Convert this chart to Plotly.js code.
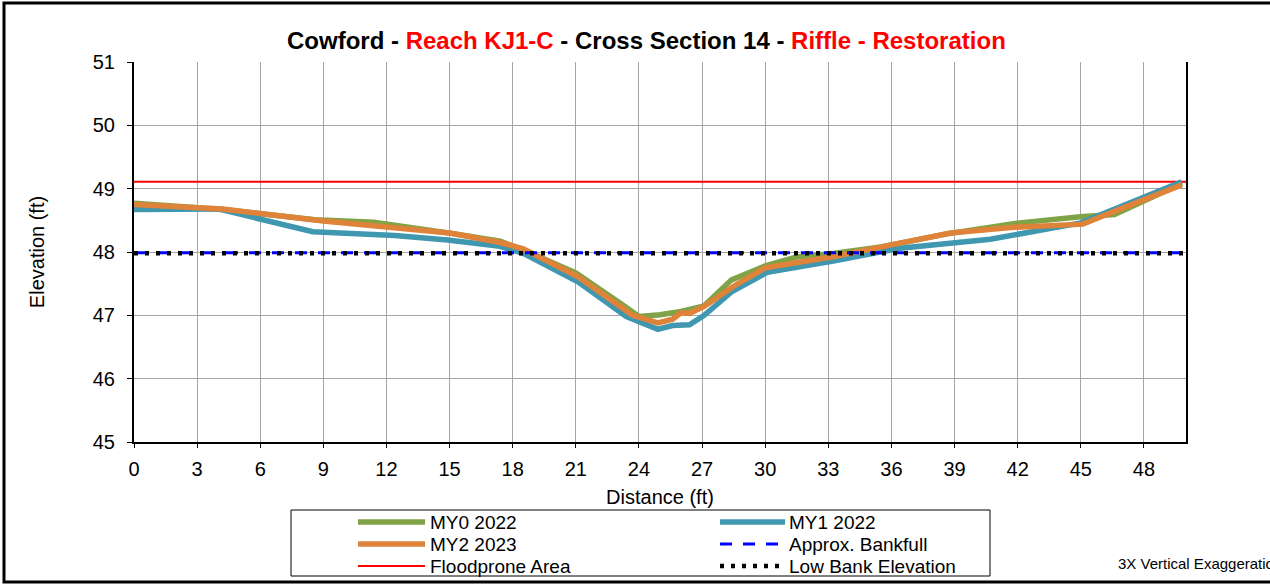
<!DOCTYPE html>
<html>
<head>
<meta charset="utf-8">
<script src="https://cdn.plot.ly/plotly-3.0.1.min.js"></script>
<style>html,body{margin:0;padding:0;background:#fff;}#chart{width:1270px;height:587px;}</style>
</head>
<body>
<div id="chart"></div>
<script>
// ---- Data ----
const my0_x = [0, 4.2, 8.6, 11.4, 15.2, 17.4, 18.6, 21.0, 23.2, 24.0, 25.0, 26.0, 27.1, 28.4, 30.0, 31.5, 33.3, 35.5, 38.7, 42.1, 45.1, 46.6, 49.8];
const my0_y = [48.77, 48.67, 48.51, 48.47, 48.29, 48.17, 48.02, 47.67, 47.17, 46.98, 47.01, 47.06, 47.15, 47.56, 47.78, 47.92, 47.98, 48.08, 48.29, 48.46, 48.56, 48.59, 49.08];

const my1_x = [0, 4.0, 8.5, 12.4, 14.9, 17.4, 18.5, 21.1, 23.4, 24.5, 24.9, 25.6, 26.4, 27.1, 28.4, 30.1, 33.3, 36.4, 40.7, 45.0, 49.8];
const my1_y = [48.67, 48.68, 48.32, 48.26, 48.19, 48.09, 47.98, 47.53, 46.98, 46.82, 46.78, 46.84, 46.85, 47.0, 47.37, 47.68, 47.86, 48.06, 48.2, 48.46, 49.11];

const my2_x = [0, 4.2, 9.0, 12.0, 15.0, 17.4, 18.5, 21.1, 23.0, 23.7, 24.9, 25.6, 26.0, 26.4, 27.1, 28.5, 30.0, 33.3, 36.4, 38.8, 41.8, 45.1, 46.5, 49.8];
const my2_y = [48.75, 48.68, 48.49, 48.39, 48.3, 48.15, 48.05, 47.61, 47.15, 47.0, 46.88, 46.94, 47.04, 47.03, 47.14, 47.46, 47.75, 47.93, 48.14, 48.30, 48.39, 48.44, 48.63, 49.06];

const ref_x = [0, 50];
const floodprone_y = [49.11, 49.11];
const bankfull_y = [47.99, 47.99];
const lowbank_y = [47.98, 47.98];

const x_ticks = [0, 3, 6, 9, 12, 15, 18, 21, 24, 27, 30, 33, 36, 39, 42, 45, 48];
const y_ticks = [45, 46, 47, 48, 49, 50, 51];

const FONT = 'Liberation Sans, Arial, sans-serif';

const traces = [
  {x: ref_x, y: floodprone_y, name: 'Floodprone Area', mode: 'lines', line: {color: '#ff0000', width: 2}},
  {x: my0_x, y: my0_y, name: 'MY0 2022', mode: 'lines', line: {color: '#7fa346', width: 5.5}},
  {x: my1_x, y: my1_y, name: 'MY1 2022', mode: 'lines', line: {color: '#3f97b0', width: 5.5}},
  {x: my2_x, y: my2_y, name: 'MY2 2023', mode: 'lines', line: {color: '#e0833a', width: 5.5}},
  {x: ref_x, y: bankfull_y, name: 'Approx. Bankfull', mode: 'lines', line: {color: '#0000ff', width: 3, dash: '12px,11px'}},
  {x: ref_x, y: lowbank_y, name: 'Low Bank Elevation', mode: 'lines', line: {color: '#000000', width: 4.5, dash: '4px,7px'}}
];

// ---- Layout geometry helpers (pixel -> paper) ----
const W = 1270, H = 587, ML = 134, MR = 84, MT = 62, MB = 145;
const PW = W - ML - MR, PH = H - MT - MB;
const px = v => (v - ML) / PW;
const py = v => (H - MB - v) / PH;

// Legend drawn as a boxed two-column key (order as in the reference)
const legendOrder = ['MY0 2022', 'MY1 2022', 'MY2 2023', 'Approx. Bankfull', 'Floodprone Area', 'Low Bank Elevation'];
const legCols = [{s0: 358, s1: 425, t: 428}, {s0: 720, s1: 785, t: 787}];
const legRows = [522, 544, 566];

const shapes = [
  {type: 'rect', xref: 'paper', yref: 'paper', x0: px(4), x1: px(1300), y0: py(582), y1: py(3),
   line: {color: '#000', width: 3}, fillcolor: 'rgba(0,0,0,0)', layer: 'below'},
  {type: 'rect', xref: 'paper', yref: 'paper', x0: px(291), x1: px(990), y0: py(576), y1: py(510),
   line: {color: '#000', width: 1}, fillcolor: '#fff'}
];
const annotations = [
  {xref: 'paper', yref: 'paper', x: px(646), y: py(40), xanchor: 'center', yanchor: 'middle', showarrow: false,
   text: "<b>Cowford - <span style='color:#ff0000'>Reach KJ1-C</span> - Cross Section 14 - <span style='color:#ff0000'>Riffle - Restoration</span></b>",
   font: {size: 24, family: FONT, color: '#000'}},
  {xref: 'paper', yref: 'paper', x: px(1116), y: py(563), xanchor: 'left', yanchor: 'middle', showarrow: false,
   text: '3X Vertical Exaggeration', font: {size: 15, family: FONT, color: '#000'}}
];
legendOrder.forEach((name, i) => {
  const tr = traces.find(t => t.name === name);
  const c = legCols[i % 2], r = legRows[Math.floor(i / 2)];
  const ln = {color: tr.line.color, width: tr.line.width};
  if (tr.line.dash) ln.dash = tr.line.dash;
  shapes.push({type: 'line', xref: 'paper', yref: 'paper', x0: px(c.s0), x1: px(c.s1), y0: py(r), y1: py(r), line: ln});
  annotations.push({xref: 'paper', yref: 'paper', x: px(c.t), y: py(r), xanchor: 'left', yanchor: 'middle', showarrow: false,
    text: name, font: {size: 19, family: FONT, color: '#000'}});
});

const layout = {
  width: W, height: H,
  margin: {l: ML, r: MR, t: MT, b: MB, autoexpand: false},
  paper_bgcolor: '#ffffff', plot_bgcolor: '#ffffff',
  font: {family: FONT, color: '#000', size: 17},
  showlegend: false,
  hovermode: false,
  xaxis: {
    range: [0, 50], tickvals: x_ticks, ticktext: x_ticks.map(String),
    showgrid: true, gridcolor: '#a6a6a6', gridwidth: 1,
    showline: true, linecolor: '#000', linewidth: 2,
    ticks: 'outside', ticklen: 4, tickcolor: '#000',
    ticklabelstandoff: 4,
    tickfont: {size: 20, family: FONT},
    zeroline: false,
    title: {text: 'Distance (ft)', font: {size: 20, family: FONT}, standoff: 11}
  },
  yaxis: {
    range: [45, 51], tickvals: y_ticks, ticktext: y_ticks.map(String),
    showgrid: true, gridcolor: '#a6a6a6', gridwidth: 1,
    showline: true, linecolor: '#000', linewidth: 2, mirror: true,
    ticks: 'outside', ticklen: 5, tickcolor: '#000',
    ticklabelstandoff: 8,
    tickfont: {size: 20, family: FONT},
    zeroline: false,
    title: {text: 'Elevation (ft)', font: {size: 20, family: FONT}, standoff: 43}
  },
  annotations: annotations,
  shapes: shapes
};

Plotly.newPlot('chart', traces, layout, {displayModeBar: false, staticPlot: true});
</script>
</body>
</html>
